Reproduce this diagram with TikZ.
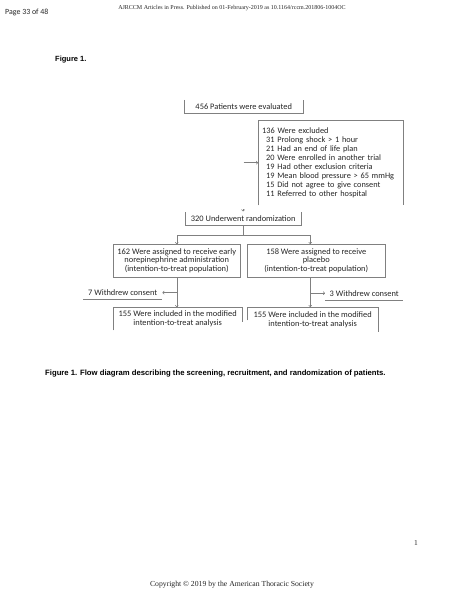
\documentclass[tikz,border=0pt]{standalone}
\usepackage{fontspec}
\setmainfont{Carlito}
\newfontfamily\serifft{Liberation Serif}
\newfontfamily\arialft{Liberation Sans}
\usetikzlibrary{arrows.meta,calc}
\definecolor{linegray}{gray}{0.5}
\definecolor{txt}{gray}{0.15}
\newcommand\boxfont{\fontsize{8.4}{8.5}\selectfont}
\newcommand\excfont{\fontsize{8.3}{8.9}\selectfont}
\begin{document}
\begin{tikzpicture}[x=1pt,y=-1pt,
  ln/.style={draw=linegray, line width=0.5pt},
  arr/.style={ln, -{To[length=2pt,width=3.6pt]}},
  bx/.style={anchor=north west, inner sep=0pt, align=center, font=\boxfont, text=txt},
  capt/.style={anchor=west, inner sep=0pt, font=\arialft\bfseries\fontsize{7.7}{8.5}\selectfont, text=black},
]
\useasboundingbox[fill=white] (0,0) rectangle (463,599);

% page furniture
\node[anchor=west, inner sep=0pt, font=\fontsize{7.9}{9}\selectfont, text=txt] (pg) at (5,12) {Page 33 of 48};
\node[inner sep=0pt, font=\serifft\fontsize{6}{7}\selectfont, text=txt] (hdr) at (232,8) {AJRCCM Articles in Press. Published on 01-February-2019 as 10.1164/rccm.201806-1004OC};
\node[capt, font=\arialft\bfseries\fontsize{7.5}{8.5}\selectfont] (fig) at (55,60) {Figure 1.};
\node[capt] (cap) at (45,374) {Figure 1. Flow diagram describing the screening, recruitment, and randomization of patients.};
\node[inner sep=0pt, font=\serifft\fontsize{7.5}{8}\selectfont, text=txt] (pnum) at (416,543) {1};
\node[inner sep=0pt, font=\serifft\fontsize{7.7}{8}\selectfont, text=txt] (copy) at (232,585) {Copyright \textcopyright{} 2019 by the American Thoracic Society};

% boxes
\node[bx, minimum width=119pt, minimum height=13pt] (n456) at (184,100) {456 Patients were evaluated};
\draw[ln] (n456.north west) -- (n456.south west) -- (n456.south east) -- (n456.north east);

\node[bx, minimum width=145pt, minimum height=85pt, text width=137pt, align=left, font=\excfont] (exc) at (258,120)
 {136 Were excluded\\
  \hspace*{4pt}31 Prolong shock > 1 hour\\
  \hspace*{4pt}21 Had an end of life plan\\
  \hspace*{4pt}20 Were enrolled in another trial\\
  \hspace*{4pt}19 Had other exclusion criteria\\
  \hspace*{4pt}19 Mean blood pressure > 65 mmHg\\
  \hspace*{4pt}15 Did not agree to give consent\\
  \hspace*{4pt}11 Referred to other hospital};
\draw[ln] (exc.south west) -- (exc.north west) -- (exc.north east) -- (exc.south east);

\node[bx, minimum width=116pt, minimum height=13pt] (n320) at (185,212) {320 Underwent randomization};
\draw[ln] (n320.north west) -- (n320.south west) -- (n320.south east) -- (n320.north east);

\node[bx, minimum width=127pt, minimum height=33pt, draw=linegray, line width=0.5pt] (n162) at (113,244)
 {162 Were assigned to receive early\\norepinephrine administration\\(intention-to-treat population)};
\node[bx, minimum width=138pt, minimum height=33pt, draw=linegray, line width=0.5pt] (n158) at (247,244)
 {158 Were assigned to receive\\placebo\\(intention-to-treat population)};

\node[bx, minimum width=79pt, minimum height=13pt] (w7) at (83,286) {7 Withdrew consent};
\draw[ln] (w7.south west) -- (w7.south east);
\node[bx, minimum width=78pt, minimum height=14pt] (w3) at (325,286) {3 Withdrew consent};
\draw[ln] (w3.south west) -- (w3.south east);

\node[bx, minimum width=129pt, minimum height=23pt] (n155l) at (113,307)
 {155 Were included in the modified\\intention-to-treat analysis};
\draw[ln] (n155l.south west) -- (n155l.north west) -- (n155l.north east) -- ([yshift=8pt]n155l.south east);
\node[bx, minimum width=131pt, minimum height=25pt] (n155r) at (247,307)
 {155 Were included in the modified\\intention-to-treat analysis};
\draw[ln] ([yshift=12pt]n155r.south west) -- (n155r.north west) -- (n155r.north east) -- (n155r.south east);

% connectors
\coordinate (tr) at (n456.south |- exc.west);
\draw[arr] (tr) -- (exc.west);
\coordinate (a320) at ([yshift=2.6pt]n320.north);
\draw[arr] (a320) -- ([yshift=0.6pt]n320.north);

\coordinate (sp) at ([yshift=-10pt]n320.south);
\coordinate (t158) at ([xshift=-6pt]n158.north);
\draw[ln] (n320.south) -- (sp);
\draw[arr] (sp) -| (n162.north);
\draw[arr] (sp) -| (t158);

\coordinate (dl) at (n162.south |- n155l.north);
\draw[arr] (n162.south) -- (dl);
\coordinate (bl) at (n162.south |- w7.east);
\draw[arr] (bl) -- (w7.east);

\coordinate (sr) at (t158 |- n158.south);
\coordinate (dr) at (t158 |- n155r.north);
\draw[arr] (sr) -- (dr);
\coordinate (br) at (t158 |- w3.west);
\draw[arr] (br) -- (w3.west);
\end{tikzpicture}
\end{document}
